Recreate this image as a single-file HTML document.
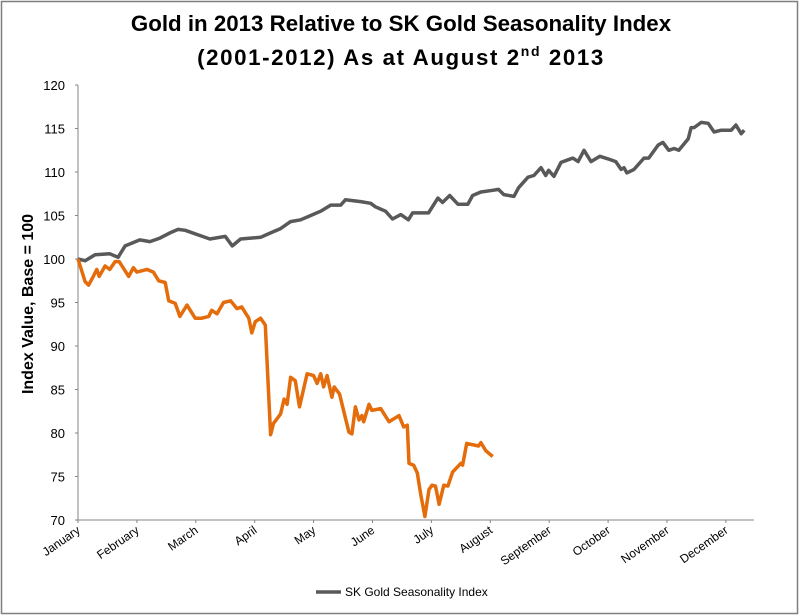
<!DOCTYPE html>
<html><head><meta charset="utf-8">
<style>
html,body{margin:0;padding:0;background:#fff;}
svg{display:block;}
</style></head>
<body>
<svg id="chart" width="800" height="616" xmlns="http://www.w3.org/2000/svg">
  <rect x="1.5" y="1.5" width="796" height="612" fill="#fff" stroke="#7f7f7f" stroke-width="1.5"/>
  <text x="401" y="31" text-anchor="middle" font-family="Liberation Sans, sans-serif" font-weight="bold" font-size="22.3" fill="#000">Gold in 2013 Relative to SK Gold Seasonality Index</text>
  <text x="401" y="65" text-anchor="middle" font-family="Liberation Sans, sans-serif" font-weight="bold" font-size="22.3" letter-spacing="1.6" fill="#000">(2001-2012) As at August 2<tspan font-size="14" dy="-9">nd</tspan><tspan dy="9"> 2013</tspan></text>
  <text transform="translate(33,304) rotate(-90)" text-anchor="middle" font-family="Liberation Sans, sans-serif" font-weight="bold" font-size="16" fill="#000">Index Value, Base = 100</text>
  <g id="axes"></g>
  <g id="series"></g>
  <line x1="316" y1="592" x2="341" y2="592" stroke="#595959" stroke-width="3.5"/>
  <text x="345" y="596" font-family="Liberation Sans, sans-serif" font-size="12" fill="#000">SK Gold Seasonality Index</text>
</svg>
<script>
const months = ["January","February","March","April","May","June","July","August","September","October","November","December"];
const yTicks = [70,75,80,85,90,95,100,105,110,115,120];
const seasonMonth = [0,.12,.29,.54,.68,.80,1.05,1.22,1.39,1.56,1.70,1.82,2.07,2.24,2.50,2.62,2.76,3.10,3.27,3.44,3.61,3.78,3.95,4.12,4.29,4.46,4.54,4.80,4.97,5.05,5.22,5.34,5.48,5.61,5.68,5.95,6.11,6.19,6.31,6.45,6.62,6.70,6.84,7.04,7.14,7.23,7.40,7.48,7.64,7.74,7.86,7.94,7.99,8.08,8.20,8.32,8.40,8.49,8.59,8.71,8.86,9.00,9.13,9.22,9.27,9.32,9.44,9.61,9.69,9.85,9.93,10.03,10.12,10.20,10.36,10.41,10.46,10.58,10.70,10.80,10.92,11.09,11.17,11.26,11.31];
const seasonValue = [100,99.8,100.5,100.6,100.2,101.5,102.2,102,102.4,103,103.4,103.3,102.7,102.3,102.6,101.5,102.3,102.5,103,103.5,104.3,104.5,105,105.5,106.2,106.2,106.8,106.6,106.4,106,105.5,104.6,105.1,104.5,105.3,105.3,107.0,106.5,107.3,106.3,106.3,107.3,107.7,107.9,108,107.4,107.2,108.2,109.4,109.6,110.5,109.6,110.2,109.5,111.1,111.4,111.6,111.2,112.5,111.2,111.8,111.5,111.2,110.3,110.5,109.9,110.3,111.6,111.6,113.1,113.4,112.5,112.7,112.5,113.8,115.1,115.1,115.7,115.6,114.6,114.8,114.8,115.4,114.4,114.8];
const goldMonth = [0,.12,.18,.26,.32,.36,.46,.54,.63,.70,.86,.94,1.00,1.17,1.28,1.37,1.48,1.54,1.65,1.73,1.85,1.99,2.10,2.22,2.27,2.36,2.47,2.59,2.70,2.78,2.90,2.95,3.01,3.10,3.18,3.27,3.32,3.44,3.50,3.55,3.61,3.69,3.76,3.89,4.00,4.06,4.12,4.17,4.23,4.31,4.35,4.44,4.60,4.65,4.71,4.77,4.82,4.85,4.94,4.99,5.14,5.28,5.45,5.53,5.59,5.62,5.70,5.76,5.82,5.89,5.96,6.01,6.07,6.13,6.21,6.28,6.36,6.50,6.53,6.60,6.80,6.84,6.92,6.97,7.04];
const goldValue = [100,97.4,97.0,98.0,98.8,98.0,99.2,98.8,99.7,99.7,98.0,99.0,98.5,98.8,98.5,97.5,97.3,95.2,94.9,93.4,94.7,93.2,93.2,93.4,94.1,93.7,95.0,95.2,94.3,94.5,93.2,91.5,92.8,93.2,92.4,79.8,81.1,82.2,83.9,83.3,86.4,86.0,83.0,86.8,86.6,85.7,86.8,85.3,86.6,84.1,85.3,84.5,80.1,79.9,83.0,81.5,82.0,81.3,83.3,82.6,82.8,81.3,82.0,80.7,80.9,76.5,76.3,75.4,72.9,70.4,73.5,74.0,73.9,71.8,74.0,73.9,75.5,76.5,76.3,78.8,78.5,78.9,78.0,77.7,77.3];

const NS = "http://www.w3.org/2000/svg";
const X0 = 78, MW = 58.9, Y100 = 259, PU = 8.7, XEND = 754;
function xS(m){ return X0 + m*MW; }
function yS(v){ return Y100 - (v-100)*PU; }
function mk(tag, attrs, parent){ const e=document.createElementNS(NS,tag); for(const k in attrs) e.setAttribute(k,attrs[k]); parent.appendChild(e); return e; }

const axes = document.getElementById("axes");
const yl = mk("line",{x1:X0,y1:yS(120),x2:X0,y2:yS(70),stroke:"#868686","stroke-width":1},axes);


const xl = mk("line",{x1:X0,y1:yS(70),x2:XEND,y2:yS(70),stroke:"#868686","stroke-width":1},axes);


yTicks.forEach(v=>{
  const t = mk("line",{x1:X0-3,y1:yS(v),x2:X0,y2:yS(v),stroke:"#868686"},axes);
  
  
  const l = mk("text",{x:X0-13,y:yS(v)+5,"text-anchor":"end","font-family":"Liberation Sans, sans-serif","font-size":"13",fill:"#000"},axes);
  l.textContent = v;
  
  
});
for(let i=0;i<12;i++){
  const t = mk("line",{x1:xS(i),y1:yS(70),x2:xS(i),y2:yS(70)+3,stroke:"#868686"},axes);
  
  
}
months.forEach((m,i)=>{
  const x = xS(i)+3, y = yS(70)+12;
  const l = mk("text",{x:x,y:y,"text-anchor":"end",transform:`rotate(-35 ${x} ${y})`,"font-family":"Liberation Sans, sans-serif","font-size":"12",fill:"#000"},axes);
  l.textContent = m;
  
  
});

const series = document.getElementById("series");
function path(ms, vs){ return ms.map((m,i)=>(i?"L":"M")+xS(m).toFixed(1)+","+yS(vs[i]).toFixed(1)).join(""); }
const sp = mk("path",{d:path(seasonMonth,seasonValue),fill:"none",stroke:"#595959","stroke-width":3.5,"stroke-linejoin":"round"},series);


const gp = mk("path",{d:path(goldMonth,goldValue),fill:"none",stroke:"#E46C0A","stroke-width":3.5,"stroke-linejoin":"round"},series);


</script>
</body></html>
